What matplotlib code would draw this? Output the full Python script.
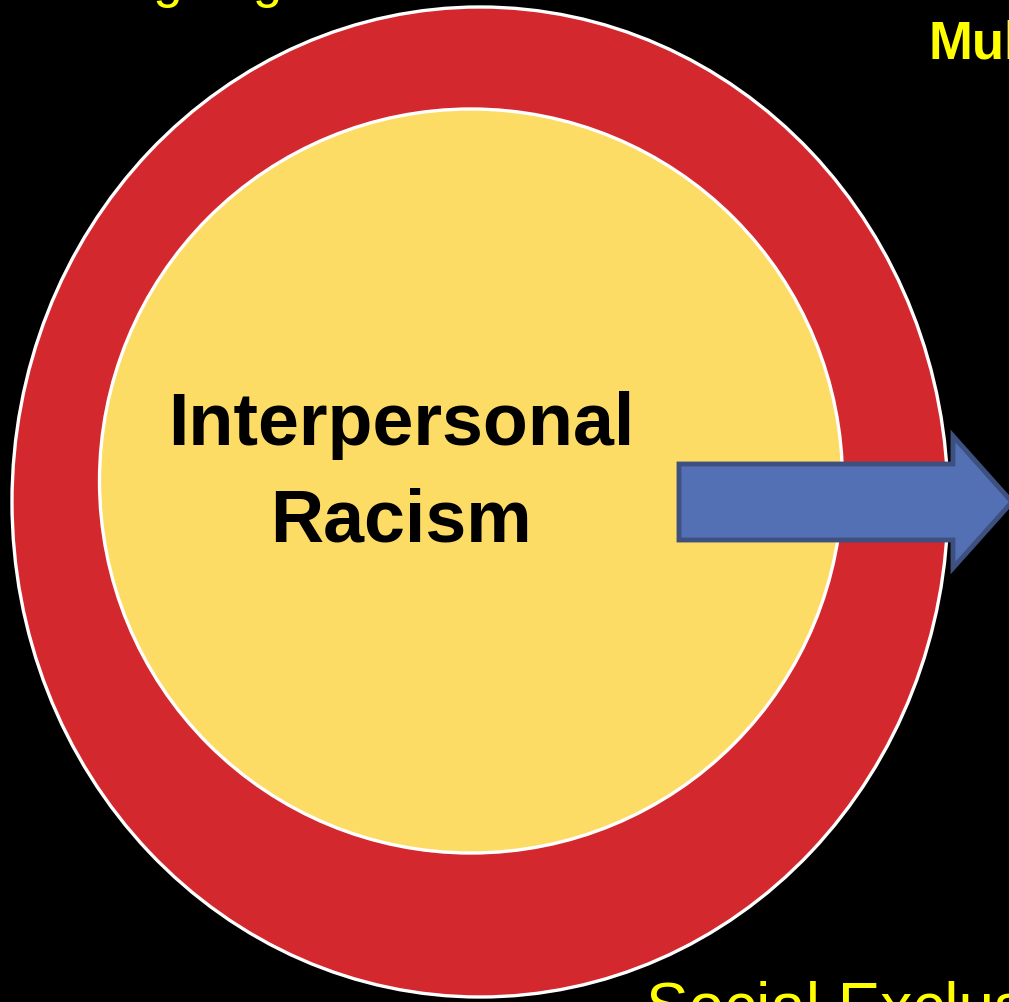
import matplotlib
matplotlib.use('Agg')
import matplotlib.pyplot as plt
from matplotlib.patches import Ellipse, Polygon

# labels
center_label = 'Interpersonal\nRacism'
side_labels = ['Ongoing', 'Mul', 'Social Exclus']

# colours
bg = 'black'
ring_color = '#d2282e'
core_color = '#fcdc64'
arrow_fill = '#5470b4'
arrow_edge = '#3d5080'
label_yellow = '#ffff00'

fig = plt.figure(figsize=(10.09, 10.02), dpi=100)
fig.patch.set_facecolor(bg)
ax = fig.add_axes([0, 0, 1, 1])
ax.set_facecolor(bg)
ax.set_xlim(0, 1009)
ax.set_ylim(1002, 0)
ax.axis('off')

# outer ring and inner disc
ax.add_patch(Ellipse((480, 502), 936, 990, facecolor=ring_color,
                     edgecolor='white', linewidth=2.4, zorder=1))
ax.add_patch(Ellipse((471, 481), 743, 744, facecolor=core_color,
                     edgecolor='white', linewidth=2.4, zorder=2))

# block arrow pointing right
arrow_pts = [(679, 464), (953, 464), (953, 436), (1012, 502),
             (953, 568), (953, 540), (679, 540)]
ax.add_patch(Polygon(arrow_pts, closed=True, facecolor=arrow_fill,
                     edgecolor=arrow_edge, linewidth=3.5, joinstyle='miter',
                     zorder=3))

ax.text(401, 474, center_label, ha='center', va='center',
        fontsize=53, fontweight='bold', family='Liberation Sans',
        color='black', linespacing=1.5, zorder=4)

ax.text(83, -3, side_labels[0], ha='left', va='baseline', fontsize=38,
        family='Liberation Sans', color=label_yellow, zorder=4)
ax.text(928, 58, side_labels[1], ha='left', va='baseline', fontsize=38,
        fontweight='bold', family='Liberation Sans', color=label_yellow,
        zorder=4)
ax.text(646, 1028, side_labels[2], ha='left', va='baseline', fontsize=46,
        family='Liberation Sans', color=label_yellow, zorder=4)

fig.savefig('out.png', dpi=100, facecolor=bg)
